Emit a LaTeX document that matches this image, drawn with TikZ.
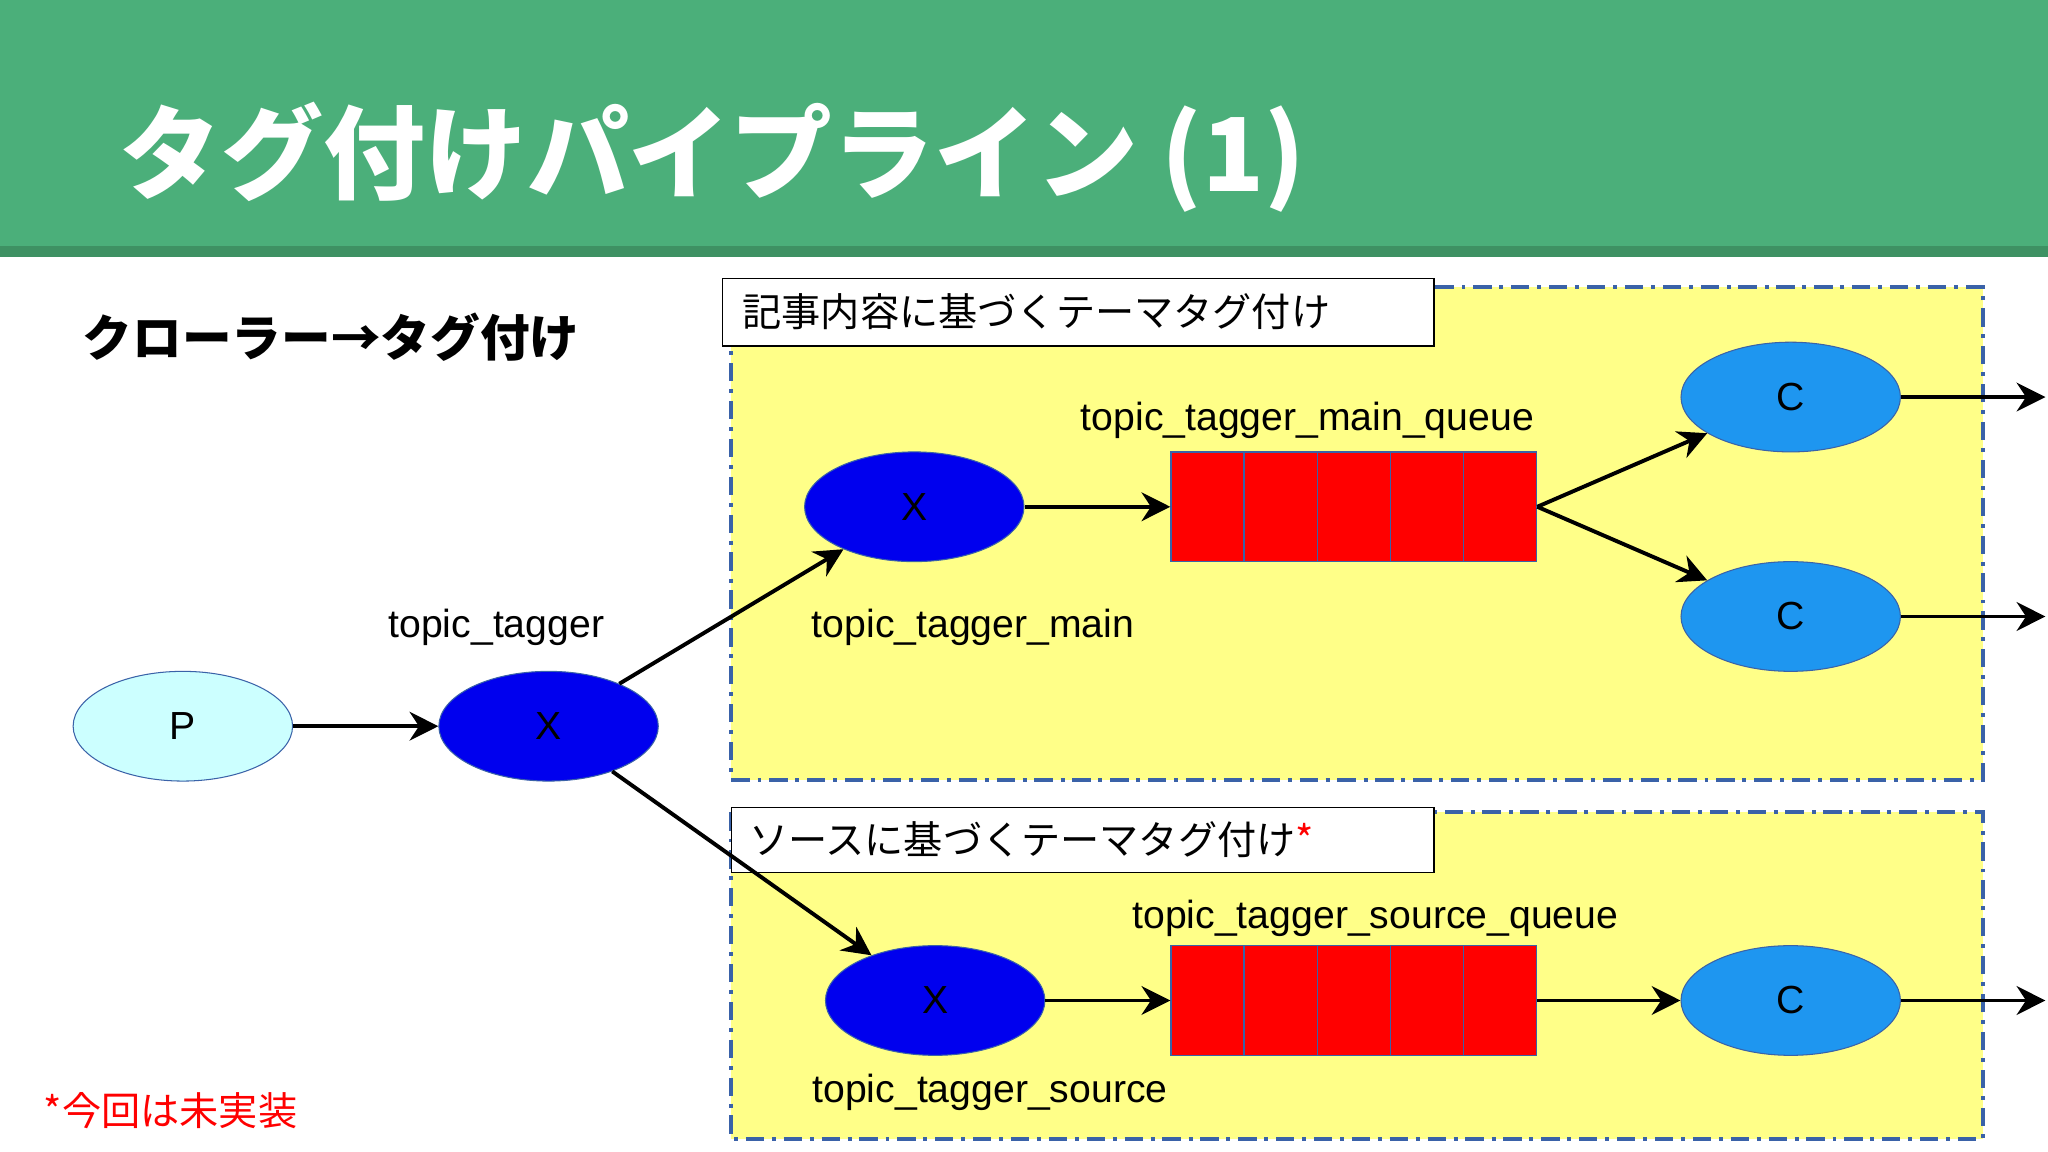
\documentclass[tikz,border=0pt]{standalone}
\usepackage{fontspec}
\setmainfont{Liberation Sans}
\newfontfamily\jp{Noto Sans CJK JP}
\usetikzlibrary{arrows.meta,shapes.geometric}
\definecolor{hdr}{HTML}{4BAF7A}
\definecolor{hdrdark}{HTML}{3E9163}
\definecolor{ybox}{HTML}{FFFF88}
\definecolor{ydash}{HTML}{3A62A8}
\definecolor{xblue}{HTML}{0000EE}
\definecolor{cblue}{HTML}{1E96F0}
\definecolor{pcyan}{HTML}{CCFFFF}
\tikzset{
 ell/.style={ellipse,minimum width=168pt,minimum height=84pt,draw=ydash,line width=0.8pt,font=\fontsize{30}{30}\selectfont,inner sep=0pt},
 arr/.style={line width=3pt,-{Stealth[length=22pt,width=22pt]}},
 grp/.style={fill=ybox,draw=ydash,line width=3pt,dash pattern=on 14pt off 6pt on 3pt off 6pt},
 lbl/.style={draw=black,fill=white,line width=1pt,anchor=north west,inner sep=0pt},
 qtxt/.style={font=\fontsize{30}{30}\selectfont},
 cell/.style={draw=ydash,fill=red,line width=1pt,minimum width=56pt,minimum height=84pt,inner sep=0pt,anchor=west}
}
\begin{document}
\begin{tikzpicture}[x=1pt,y=-1pt]
\useasboundingbox (0,0) rectangle (1568,882);
\fill[white] (0,0) rectangle (1568,882);
\fill[hdr] (0,0) rectangle (1568,190);
\fill[hdrdark] (0,188) rectangle (1568,197);
\node[anchor=west,text=white,font=\jp\bfseries\fontsize{78}{78}\selectfont] (title) at (88,120) {タグ付けパイプライン (1)};
\node[anchor=west,font=\jp\bfseries\fontsize{38}{38}\selectfont] (sub) at (60,258) {クローラー→タグ付け};
\node[anchor=west,text=red,font=\jp\fontsize{30}{30}\selectfont] (note) at (30,850) {*今回は未実装};
% groups
\draw[grp] (560,220) rectangle (1518,597);
\draw[grp] (560,622) rectangle (1518,872);
\draw[lbl] (553,213) rectangle (1098,265);
\node[anchor=west,font=\jp\fontsize{30}{30}\selectfont] (l1) at (565,239) {記事内容に基づくテーマタグ付け};
\draw[lbl] (560,618) rectangle (1098,668);
\node[anchor=west,font=\jp\fontsize{30}{30}\selectfont] (l2) at (570,643) {ソースに基づくテーマタグ付け\textcolor{red}{*}};
% nodes
\node[ell,fill=pcyan] (P) at (140,556) {P};
\node[ell,fill=xblue] (X) at (420,556) {X};
\node[ell,fill=xblue] (XM) at (700,388) {X};
\node[ell,fill=xblue] (XS) at (716,766) {X};
\node[ell,fill=cblue] (C1) at (1371,304) {C};
\node[ell,fill=cblue] (C2) at (1371,472) {C};
\node[ell,fill=cblue] (C3) at (1371,766) {C};
\foreach \i in {0,...,4}{\node[cell] (qm\i) at (896+56*\i,388) {};}
\foreach \i in {0,...,4}{\node[cell] (qs\i) at (896+56*\i,766) {};}
\node[qtxt] (t1) at (380,480) {topic\_tagger};
\node[qtxt] (t2) at (745,480) {topic\_tagger\_main};
\node[qtxt] (t3) at (1001,322) {topic\_tagger\_main\_queue};
\node[qtxt] (t4) at (1053,703) {topic\_tagger\_source\_queue};
\node[qtxt] (t5) at (758,836) {topic\_tagger\_source};
\coordinate (o1) at (1566,304);
\coordinate (o2) at (1566,472);
\coordinate (o3) at (1566,766);
% arrows
\draw[arr] (P) -- (X);
\draw[arr] (X) -- (XM);
\draw[arr] (X) -- (XS);
\draw[arr] (XM) -- (qm0.west);
\draw[arr] (XS) -- (qs0.west);
\draw[arr] (qm4.east) -- (C1);
\draw[arr] (qm4.east) -- (C2);
\draw[arr] (qs4.east) -- (C3);
\draw[arr] (C1) -- (o1);
\draw[arr] (C2) -- (o2);
\draw[arr] (C3) -- (o3);
\end{tikzpicture}
\end{document}
